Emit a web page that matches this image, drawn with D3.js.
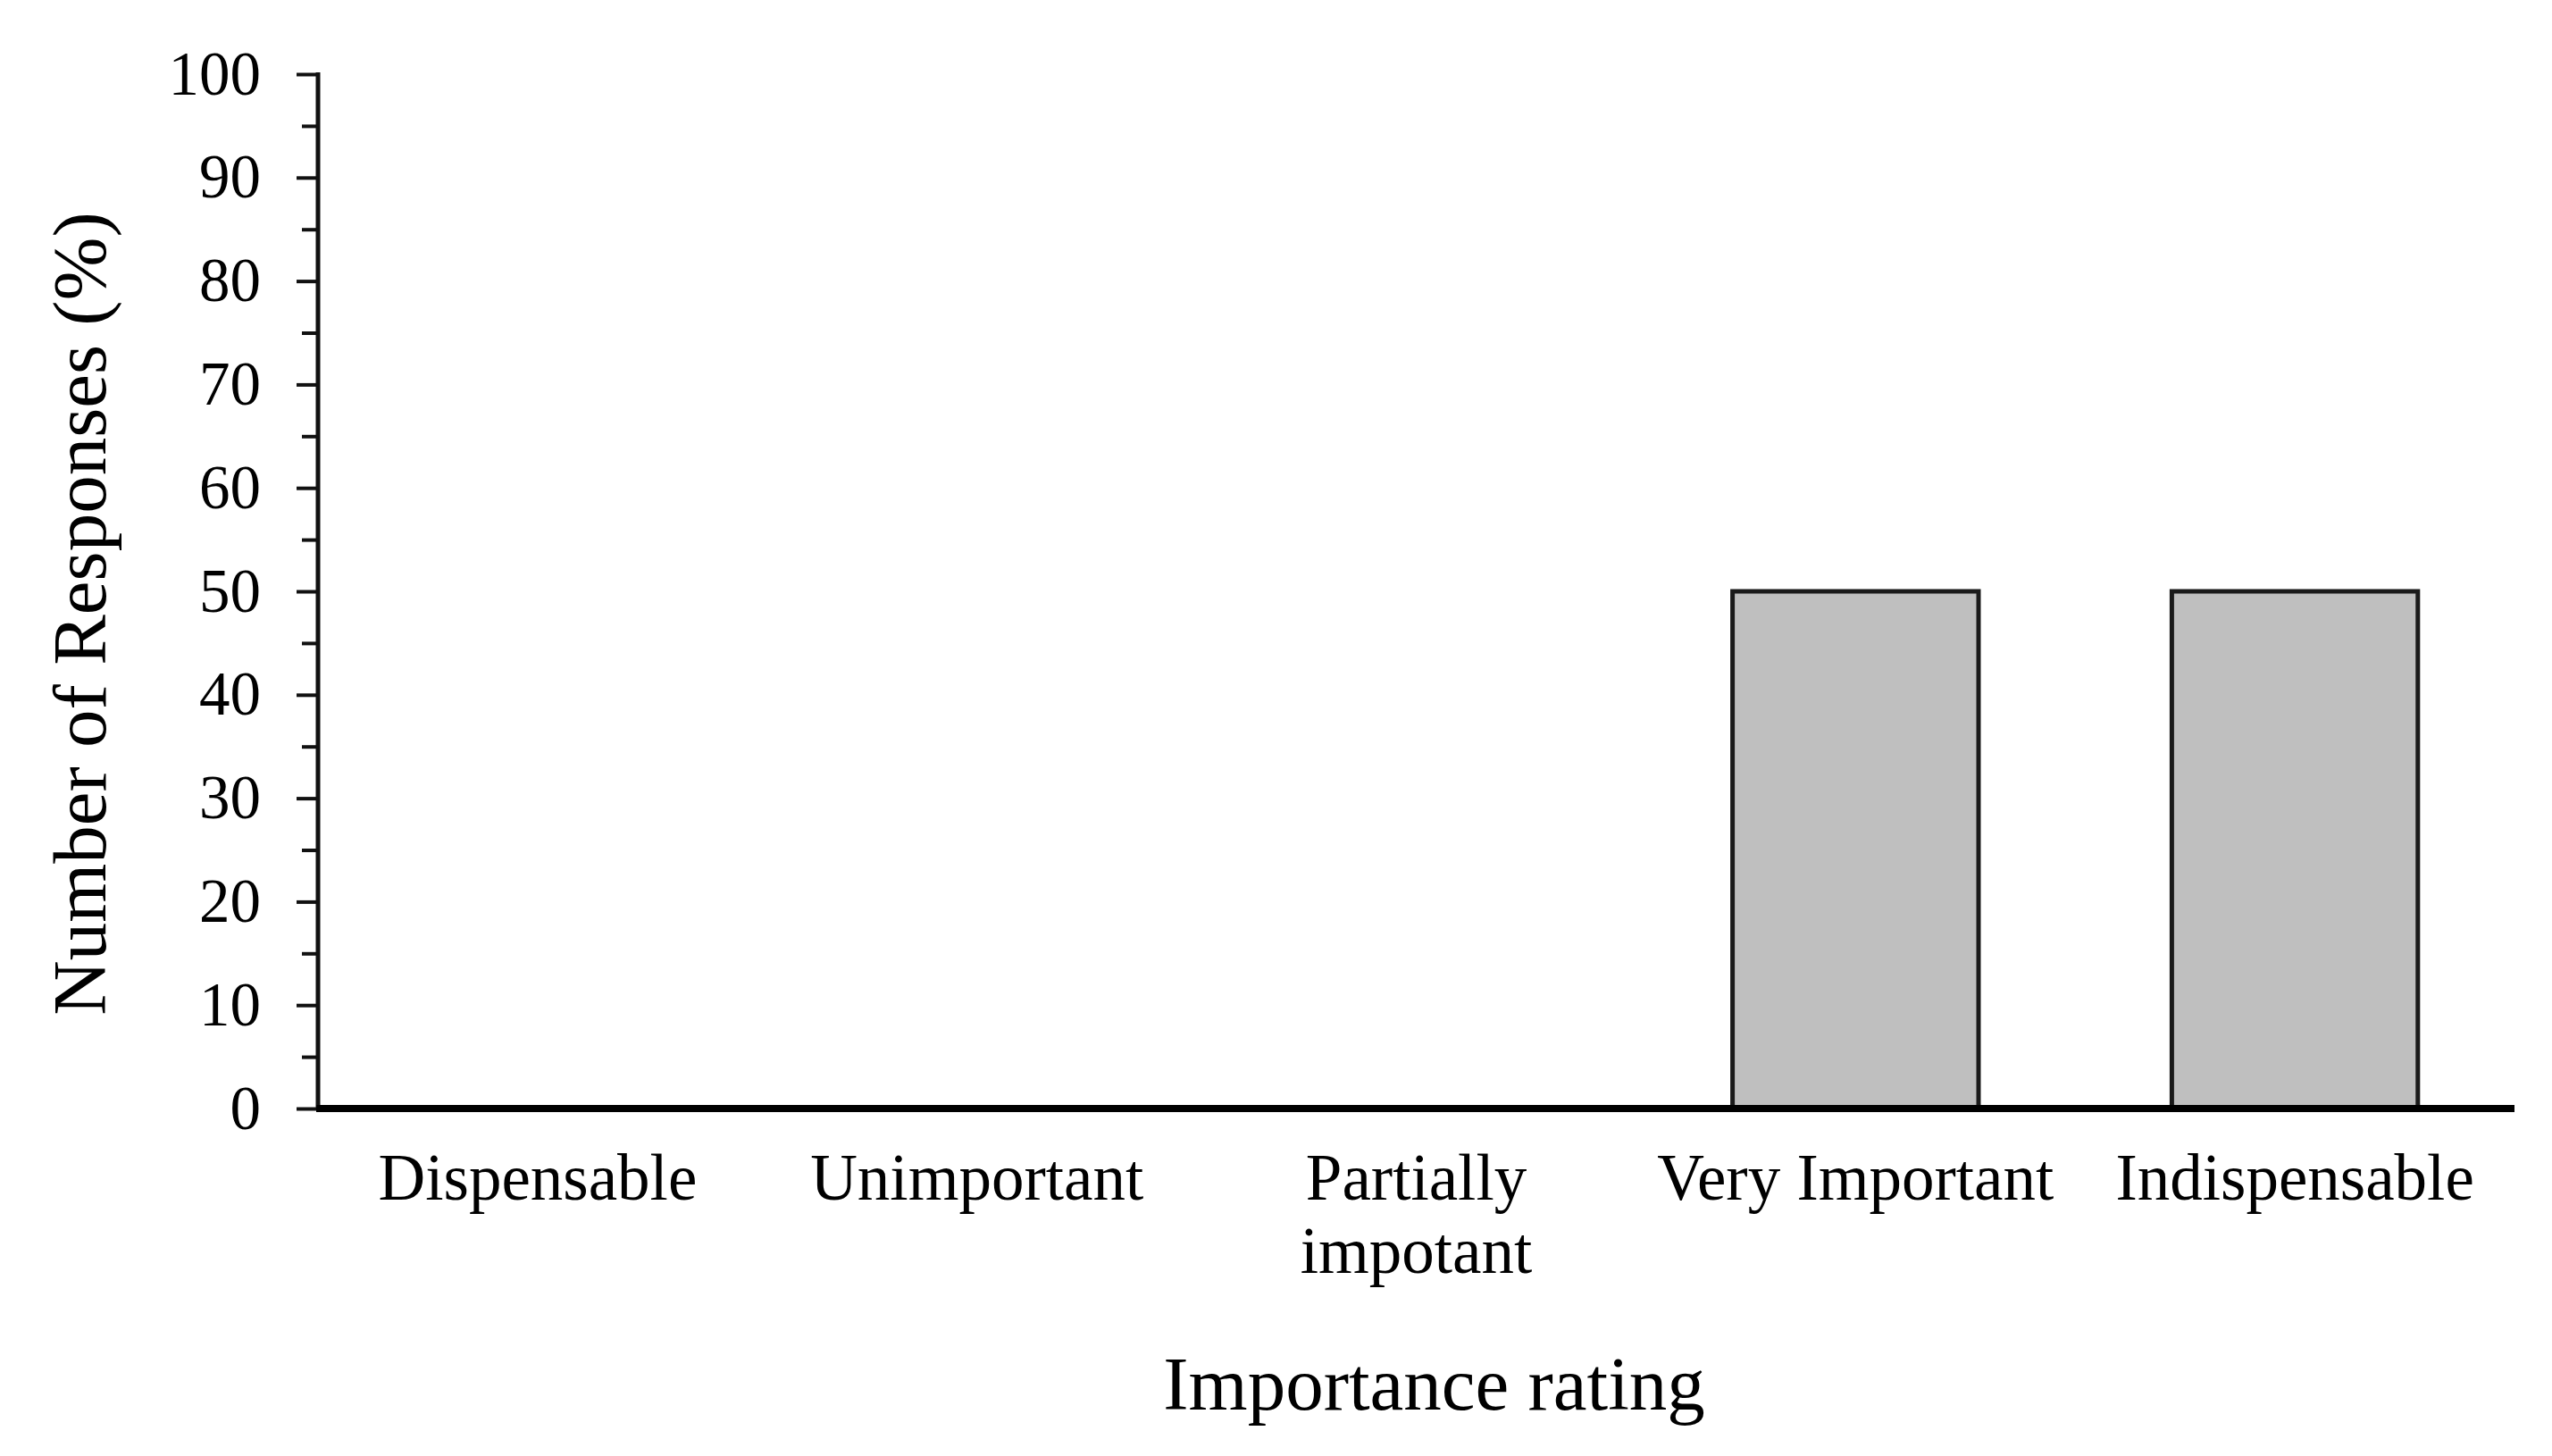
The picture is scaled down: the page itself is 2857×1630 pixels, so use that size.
<!DOCTYPE html>
<html>
<head>
<meta charset="utf-8">
<script src="https://cdn.jsdelivr.net/npm/d3@7"></script>
<style>
  html, body { margin: 0; padding: 0; background: #fff; }
  svg { display: block; }
  text { font-family: "Liberation Serif", "Times New Roman", serif; fill: #000; }
</style>
</head>
<body>
<svg id="chart" width="2857" height="1630"></svg>
<script>
const categories = ["Dispensable", "Unimportant", "Partially\nimpotant", "Very Important", "Indispensable"];
const values = [0, 0, 0, 50, 50];
const majorTicks = [0, 10, 20, 30, 40, 50, 60, 70, 80, 90, 100];
const minorTicks = [5, 15, 25, 35, 45, 55, 65, 75, 85, 95];
const xTitle = "Importance rating";
const yTitle = "Number of Responses (%)";

const W = 2857, H = 1630;
const margin = { left: 356, right: 42, top: 83, bottom: 389 };
const svg = d3.select("#chart");

const x = d3.scaleBand().domain(categories).range([margin.left, W - margin.right]).paddingInner(0.44).paddingOuter(0.22);
const y = d3.scaleLinear().domain([0, 100]).range([H - margin.bottom, margin.top]);

// bars
svg.append("g").selectAll("rect")
  .data(categories.map((c, i) => ({ c, v: values[i] })).filter(d => d.v > 0))
  .join("rect")
  .attr("x", d => x(d.c))
  .attr("y", d => y(d.v))
  .attr("width", x.bandwidth())
  .attr("height", d => y(0) - y(d.v))
  .attr("fill", "#bfbfbf")
  .attr("stroke", "#1a1a1a")
  .attr("stroke-width", 5);

// y axis major
const yAxis = svg.append("g").attr("transform", `translate(${margin.left},0)`)
  .call(d3.axisLeft(y).tickValues(majorTicks).tickSize(24).tickPadding(40).tickFormat(d3.format("d")));
yAxis.select(".domain").remove();
yAxis.selectAll(".tick line").attr("stroke", "#111").attr("stroke-width", 4);
yAxis.selectAll(".tick text").attr("font-size", 69).attr("font-family", "Liberation Serif").attr("fill", "#000");

// y axis minor
const yMinor = svg.append("g").attr("transform", `translate(${margin.left},0)`)
  .call(d3.axisLeft(y).tickValues(minorTicks).tickSize(18).tickFormat(""));
yMinor.select(".domain").remove();
yMinor.selectAll(".tick line").attr("stroke", "#111").attr("stroke-width", 4);

// y axis line
svg.append("line")
  .attr("x1", margin.left).attr("x2", margin.left)
  .attr("y1", y(100) - 2).attr("y2", y(0))
  .attr("stroke", "#111").attr("stroke-width", 5);

// x axis line
svg.append("line")
  .attr("x1", margin.left - 2).attr("x2", W - margin.right)
  .attr("y1", y(0)).attr("y2", y(0))
  .attr("stroke", "#000").attr("stroke-width", 8);

// category labels
const lab = svg.append("g").selectAll("text").data(categories).join("text")
  .attr("text-anchor", "middle")
  .attr("font-size", 73)
  .attr("x", d => x(d) + x.bandwidth() / 2)
  .attr("y", 1343);
lab.each(function(d) {
  const lines = d.split("\n");
  const t = d3.select(this);
  lines.forEach((l, i) => {
    t.append("tspan").attr("x", x(d) + x.bandwidth() / 2).attr("dy", i === 0 ? 0 : 82).text(l);
  });
});

// x title
svg.append("text")
  .attr("x", (margin.left + W - margin.right) / 2 + 20)
  .attr("y", 1578)
  .attr("text-anchor", "middle")
  .attr("font-size", 85)
  .text(xTitle);

// y title
svg.append("text")
  .attr("transform", `translate(118, ${(y(0) + y(100)) / 2 + 25}) rotate(-90)`)
  .attr("text-anchor", "middle")
  .attr("font-size", 85)
  .text(yTitle);
</script>
</body>
</html>
